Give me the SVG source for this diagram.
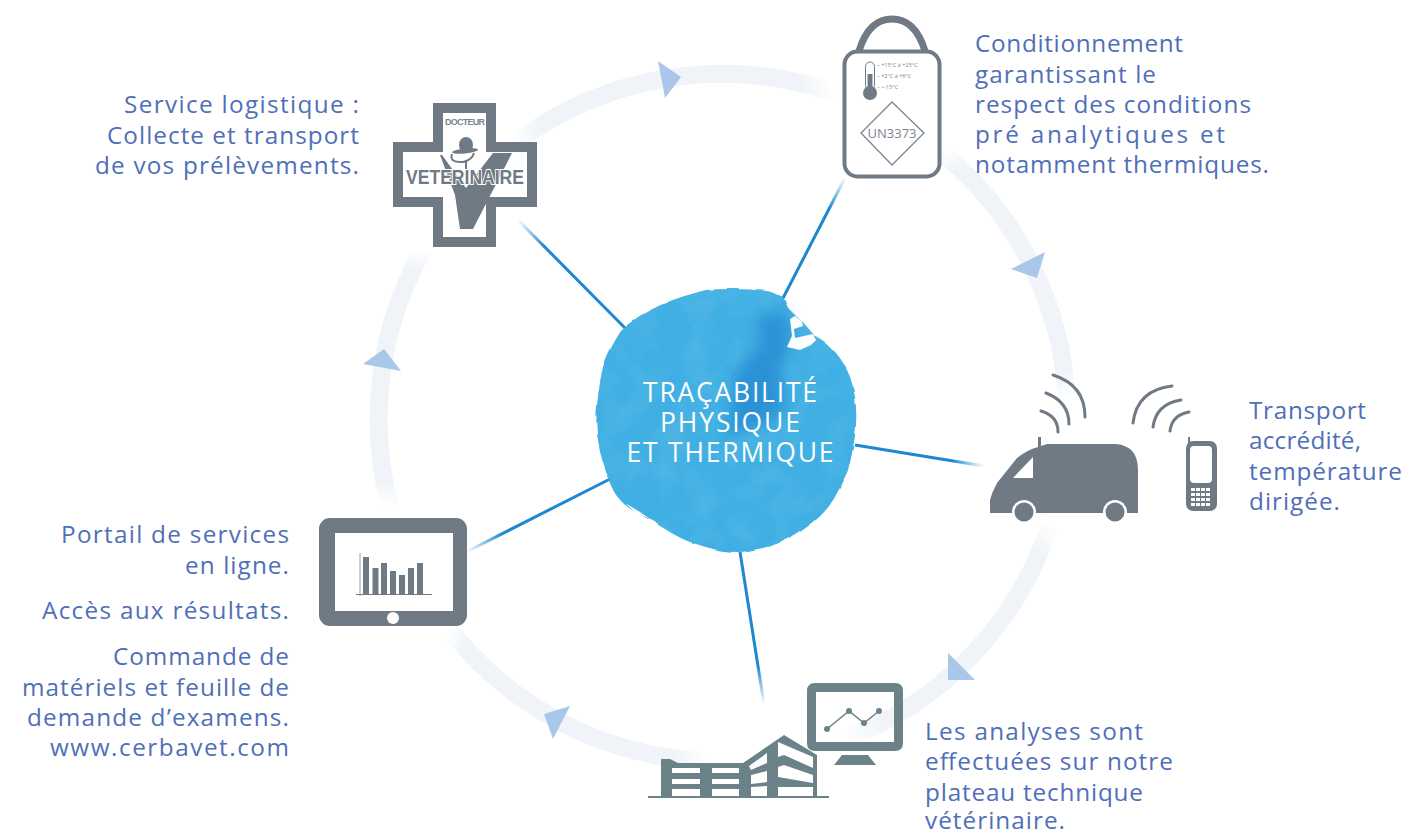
<svg xmlns="http://www.w3.org/2000/svg" width="1405" height="832" viewBox="0 0 1405 832">
<style>
.t{font-family:"Open Sans","Noto Sans",sans-serif;font-size:24.3px;fill:#4f6fb8}
.e{text-anchor:end}
.c{font-family:"Open Sans","Noto Sans",sans-serif;font-size:26.5px;fill:#fff;text-anchor:middle}
.g{fill:#6f7a85}
.m{fill:#6b8288}
.w{fill:#fff}
.a{fill:none;stroke:#6f7a85;stroke-width:3;stroke-linecap:round}
.h{fill:#a9c7e9}
.l{fill:none;stroke-width:3}
.r{fill:none;stroke-width:18}
.s{font-family:"Open Sans","Noto Sans",sans-serif;font-size:5.5px;fill:#7b8590}
</style>
<defs>
<linearGradient id="r1" gradientUnits="userSpaceOnUse" x1="514" y1="144" x2="835" y2="93"><stop offset="0" stop-color="#f0f4f8" stop-opacity="0"/><stop offset=".09" stop-color="#f0f4f8"/><stop offset=".9" stop-color="#f0f4f8"/><stop offset="1" stop-color="#f0f4f8" stop-opacity="0"/></linearGradient>
<linearGradient id="r2" gradientUnits="userSpaceOnUse" x1="940" y1="151" x2="1067" y2="400"><stop offset="0" stop-color="#f0f4f8" stop-opacity="0"/><stop offset=".09" stop-color="#f0f4f8"/><stop offset=".9" stop-color="#f0f4f8"/><stop offset="1" stop-color="#f0f4f8" stop-opacity="0"/></linearGradient>
<linearGradient id="r3" gradientUnits="userSpaceOnUse" x1="1051" y1="522" x2="840" y2="741"><stop offset="0" stop-color="#f0f4f8" stop-opacity="0"/><stop offset=".1" stop-color="#f0f4f8"/><stop offset=".85" stop-color="#f0f4f8"/><stop offset="1" stop-color="#f0f4f8" stop-opacity="0"/></linearGradient>
<linearGradient id="r4" gradientUnits="userSpaceOnUse" x1="705" y1="761" x2="447" y2="626"><stop offset="0" stop-color="#f0f4f8" stop-opacity="0"/><stop offset=".1" stop-color="#f0f4f8"/><stop offset=".9" stop-color="#f0f4f8"/><stop offset="1" stop-color="#f0f4f8" stop-opacity="0"/></linearGradient>
<linearGradient id="r5" gradientUnits="userSpaceOnUse" x1="390" y1="507" x2="423" y2="250"><stop offset="0" stop-color="#f0f4f8" stop-opacity="0"/><stop offset=".09" stop-color="#f0f4f8"/><stop offset=".92" stop-color="#f0f4f8"/><stop offset="1" stop-color="#f0f4f8" stop-opacity="0"/></linearGradient>
<linearGradient id="l1" gradientUnits="userSpaceOnUse" x1="518" y1="220" x2="625" y2="328"><stop offset="0" stop-color="#1d87cf" stop-opacity="0"/><stop offset=".25" stop-color="#1d87cf"/></linearGradient>
<linearGradient id="l2" gradientUnits="userSpaceOnUse" x1="845" y1="178" x2="781" y2="302"><stop offset="0" stop-color="#1d87cf" stop-opacity="0"/><stop offset=".25" stop-color="#1d87cf"/></linearGradient>
<linearGradient id="l3" gradientUnits="userSpaceOnUse" x1="984" y1="466" x2="855" y2="445"><stop offset="0" stop-color="#1d87cf" stop-opacity="0"/><stop offset=".25" stop-color="#1d87cf"/></linearGradient>
<linearGradient id="l4" gradientUnits="userSpaceOnUse" x1="764" y1="704" x2="740" y2="552"><stop offset="0" stop-color="#1d87cf" stop-opacity="0"/><stop offset=".25" stop-color="#1d87cf"/></linearGradient>
<linearGradient id="l5" gradientUnits="userSpaceOnUse" x1="466" y1="552" x2="612" y2="478"><stop offset="0" stop-color="#1d87cf" stop-opacity="0"/><stop offset=".25" stop-color="#1d87cf"/></linearGradient>
<filter id="blob" x="-10%" y="-10%" width="120%" height="120%">
<feTurbulence type="fractalNoise" baseFrequency=".05" numOctaves="2" seed="4" result="n"/>
<feDisplacementMap in="SourceGraphic" in2="n" scale="3" xChannelSelector="R" yChannelSelector="G" result="d"/>
<feTurbulence type="fractalNoise" baseFrequency=".035" numOctaves="4" seed="9" result="n2"/>
<feColorMatrix in="n2" type="matrix" values="0 0 0 0 .1  0 0 0 0 .5  0 0 0 0 .8  0 0 0 1.1 -.42" result="tex"/>
<feComposite in="tex" in2="d" operator="in" result="tx"/>
<feMerge><feMergeNode in="d"/><feMergeNode in="tx"/></feMerge>
</filter>
<filter id="b2" x="-30%" y="-30%" width="160%" height="160%"><feGaussianBlur stdDeviation="7"/></filter>
</defs>
<rect width="1405" height="832" fill="#fff"/>
<g id="ring">
<path class="r" stroke="url(#r1)" d="M514,144 A344,344 0 0 1 835,93"/>
<path class="r" stroke="url(#r2)" d="M940,151 A344,344 0 0 1 1067,400"/>
<path class="r" stroke="url(#r3)" d="M1051,522 A344,344 0 0 1 840,741"/>
<path class="r" stroke="url(#r4)" d="M705,761 A344,344 0 0 1 447,626"/>
<path class="r" stroke="url(#r5)" d="M390,507 A344,344 0 0 1 423,250"/>
</g>
<g id="arrowheads">
<polygon class="h" points="658,61 681,77 665,98"/>
<polygon class="h" points="1011,269 1045,252 1037,278"/>
<polygon class="h" points="948,653 975,680 948,680"/>
<polygon class="h" points="570,706 544,714 553,739"/>
<polygon class="h" points="363,364 384,349 401,371"/>
</g>
<g id="connectors">
<line class="l" stroke="url(#l1)" x1="518" y1="220" x2="625" y2="328"/>
<line class="l" stroke="url(#l2)" x1="845" y1="178" x2="781" y2="302"/>
<line class="l" stroke="url(#l3)" x1="984" y1="466" x2="855" y2="445"/>
<line class="l" stroke="url(#l4)" x1="764" y1="704" x2="740" y2="552"/>
<line class="l" stroke="url(#l5)" x1="466" y1="552" x2="612" y2="478"/>
</g>
<g id="center">
<path filter="url(#blob)" fill="#3fafe3" d="M623,328 C645,310 672,298 707,290 C730,288 755,289 772,292 L783,297 L788,308 L800,320 L813,335 C830,342 845,362 850,377 C858,400 858,425 852,453 C849,470 845,480 837,493 C830,507 820,518 807,527 C795,536 782,543 767,547 C755,550 745,552 737,552 C722,552 708,548 693,543 C678,538 664,528 650,520 C640,514 630,510 623,503 C615,495 611,487 608,477 C603,465 600,452 598,440 C596,428 596,418 597,407 C598,393 600,380 603,367 C608,352 615,340 623,328 Z"/>
<path filter="url(#b2)" fill="#1f7fcc" opacity=".6" d="M757,318 L784,310 L791,330 L787,350 L782,365 L782,415 L728,438 L735,372 L760,345 Z"/>
<polygon fill="#fff" points="790,319 795,316 802,322 803,326 794,329 795,338 804,336 813,334 816,340 811,345 800,350 787,347 792,336"/>
<polygon fill="#fff" points="625,503 640,512 650,519 636,513"/>
<text class="c" x="730" y="402" textLength="174">TRAÇABILITÉ</text>
<text class="c" x="730" y="432" textLength="140">PHYSIQUE</text>
<text class="c" x="730" y="462" textLength="207">ET THERMIQUE</text>
</g>
<g id="node-logistique">
<polygon fill="#fff" stroke="#6f7a85" stroke-width="10" points="438,108 491,108 491,147 532,147 532,202 491,202 491,242 438,242 438,202 398,202 398,147 438,147"/>
<polygon class="g" points="440,155 442,155 466,188 493,153 512,153 473,229 460,229 455,195"/>
<ellipse class="g" cx="466" cy="145" rx="7" ry="8"/>
<ellipse class="g" cx="465" cy="151" rx="13" ry="2.500" transform="rotate(-6 465 151)"/>
<path fill="none" stroke="#6f7a85" stroke-width="2" d="M452,154 Q449,163 463,162 Q472,160 474,153 M466,160 V170"/>
<text x="465" y="125" text-anchor="middle" font-family="'Liberation Sans',sans-serif" font-weight="700" font-size="9" fill="#7b8590" textLength="40">DOCTEUR</text>
<text x="465" y="184" text-anchor="middle" font-family="'Liberation Sans',sans-serif" font-weight="700" font-size="20" fill="#6f7a85" stroke="#fff" stroke-width="2" paint-order="stroke" textLength="118" lengthAdjust="spacingAndGlyphs">VETERINAIRE</text>
<text class="t e" x="359" y="113" textLength="235">Service logistique :</text>
<text class="t e" x="359" y="144" textLength="252">Collecte et transport</text>
<text class="t e" x="359" y="174" textLength="264">de vos prélèvements.</text>
</g>
<g id="node-conditionnement">
<path fill="none" stroke="#6f7a85" stroke-width="7" d="M859,51 C866,28 878,19 892,19 C906,19 918,28 925,51"/>
<rect x="844.500" y="51.500" width="95" height="125" rx="13" fill="#fff" stroke="#6f7a85" stroke-width="4"/>
<rect x="865.500" y="62" width="9" height="28" rx="4.500" fill="#fff" stroke="#6f7a85" stroke-width="1"/>
<circle cx="870" cy="93" r="7" class="g"/>
<rect x="867.500" y="74" width="5" height="18" class="g"/>
<text class="s" x="877" y="67">– +15°C à +25°C</text>
<text class="s" x="877" y="78">– +2°C à +8°C</text>
<text class="s" x="877" y="88.500">– &lt;-15°C</text>
<polygon fill="none" stroke="#7b8590" stroke-width="1.300" points="892,102 924,133 892,165 861,133"/>
<text x="892" y="138" text-anchor="middle" font-family="'Open Sans',sans-serif" font-size="13" fill="#7b8590">UN3373</text>
<text class="t" x="975" y="52" textLength="208">Conditionnement</text>
<text class="t" x="975" y="83" textLength="181">garantissant le</text>
<text class="t" x="975" y="113" textLength="276">respect des conditions</text>
<text class="t" x="975" y="143" textLength="250">pré analytiques et</text>
<text class="t" x="975" y="173" textLength="294">notamment thermiques.</text>
</g>
<g id="node-transport">
<path class="g" d="M990,513 L990,500 Q992,492 997,483 L1017,458 Q1027,450 1038,447 L1047,444 L1116,444 Q1138,446 1138,470 L1138,513 Z"/>
<rect x="1038" y="437" width="3" height="10" class="g"/>
<polygon class="w" points="1033,457 1033,478 1013,478"/>
<circle cx="1024" cy="512" r="12" class="w"/><circle cx="1024" cy="512" r="9.500" class="g"/>
<circle cx="1115" cy="512" r="12" class="w"/><circle cx="1115" cy="512" r="9.500" class="g"/>
<path class="a" d="M1053,375 Q1085,385 1085,417"/>
<path class="a" d="M1046,393 Q1069,402 1069,424"/>
<path class="a" d="M1041,411 Q1058,416 1058,432"/>
<path class="a" d="M1172,386 Q1137,390 1133,423"/>
<path class="a" d="M1181,400 Q1156,404 1153,427"/>
<path class="a" d="M1189,412 Q1172,415 1170,431"/>
<rect x="1188" y="437" width="2" height="6" class="g"/>
<rect x="1186" y="441" width="31" height="70" rx="7" class="g"/>
<rect x="1190" y="446" width="22" height="37" rx="4" class="w"/>
<g class="w"><rect x="1191" y="488" width="4" height="3"/><rect x="1196" y="488" width="4" height="3"/><rect x="1201" y="488" width="4" height="3"/><rect x="1206" y="488" width="4" height="3"/><rect x="1191" y="493" width="4" height="3"/><rect x="1196" y="493" width="4" height="3"/><rect x="1201" y="493" width="4" height="3"/><rect x="1206" y="493" width="4" height="3"/><rect x="1191" y="498" width="4" height="3"/><rect x="1196" y="498" width="4" height="3"/><rect x="1201" y="498" width="4" height="3"/><rect x="1206" y="498" width="4" height="3"/><rect x="1191" y="503" width="4" height="3"/><rect x="1196" y="503" width="4" height="3"/><rect x="1201" y="503" width="4" height="3"/><rect x="1206" y="503" width="4" height="3"/></g>
<text class="t" x="1249" y="419" textLength="117">Transport</text>
<text class="t" x="1249" y="449" textLength="112">accrédité,</text>
<text class="t" x="1249" y="480" textLength="153">température</text>
<text class="t" x="1249" y="510" textLength="91">dirigée.</text>
</g>
<g id="node-analyses">
<path class="m" d="M648,796 H829 V798 H648 Z"/>
<polygon class="m" points="661,797 661,759 670,759 678,763 743,763 784,735 817,755 817,797"/>
<g class="w"><rect x="672" y="768" width="28" height="5"/><rect x="712" y="768" width="27" height="5"/><rect x="672" y="779" width="28" height="5"/><rect x="712" y="779" width="27" height="5"/><rect x="672" y="789" width="28" height="7"/><rect x="712" y="789" width="27" height="7"/>
<polygon points="749,766 767,753 767,763 751,770"/><polygon points="751,775 767,771 767,782 751,784"/><polygon points="751,787 767,786 767,796 751,796"/>
<polygon points="778,742 813,757 813,768 784,755 778,757"/><polygon points="778,767 784,765 813,775 813,783 778,777"/><polygon points="778,787 813,787 813,796 778,796"/></g>
<path class="m" fill-rule="evenodd" d="M815,683 H895 Q903,683 903,691 V743 Q903,751 895,751 H815 Q807,751 807,743 V691 Q807,683 815,683 Z M816,692 V742 H894 V692 Z"/>
<polygon class="m" points="842,755 868,755 876,765 834,765"/>
<polyline fill="none" stroke="#6b8288" stroke-width="1.500" points="827,729 849,711 864,723 879,711"/>
<circle cx="827" cy="729" r="3" class="m"/><circle cx="849" cy="711" r="3" class="m"/><circle cx="864" cy="723" r="3" class="m"/><circle cx="879" cy="711" r="3" class="m"/>
<text class="t" x="925" y="740" textLength="218">Les analyses sont</text>
<text class="t" x="925" y="770" textLength="248">effectuées sur notre</text>
<text class="t" x="925" y="801" textLength="218">plateau technique</text>
<text class="t" x="925" y="829" textLength="140">vétérinaire.</text>
</g>
<g id="node-portail">
<rect x="319" y="518" width="148" height="108" rx="11" class="g"/>
<rect x="335" y="533" width="118" height="78" class="w"/>
<circle cx="393" cy="618" r="6" class="w"/>
<g class="g"><rect x="363" y="557" width="6" height="37"/><rect x="372.500" y="568" width="6" height="26"/><rect x="381" y="563" width="6" height="31"/><rect x="390" y="571" width="6" height="23"/><rect x="399" y="575" width="6" height="19"/><rect x="408" y="568" width="6" height="26"/><rect x="417" y="563" width="6" height="31"/></g>
<rect x="356" y="594" width="76" height="1" class="g"/>
<rect x="359.500" y="553" width="1" height="43" fill="#9aa2aa"/>
<text class="t e" x="289" y="543" textLength="228">Portail de services</text>
<text class="t e" x="289" y="574" textLength="104">en ligne.</text>
<text class="t e" x="289" y="619" textLength="247">Accès aux résultats.</text>
<text class="t e" x="289" y="665" textLength="176">Commande de</text>
<text class="t e" x="289" y="696" textLength="267">matériels et feuille de</text>
<text class="t e" x="289" y="726" textLength="262">demande d’examens.</text>
<text class="t e" x="289" y="756" textLength="239">www.cerbavet.com</text>
</g>
</svg>
